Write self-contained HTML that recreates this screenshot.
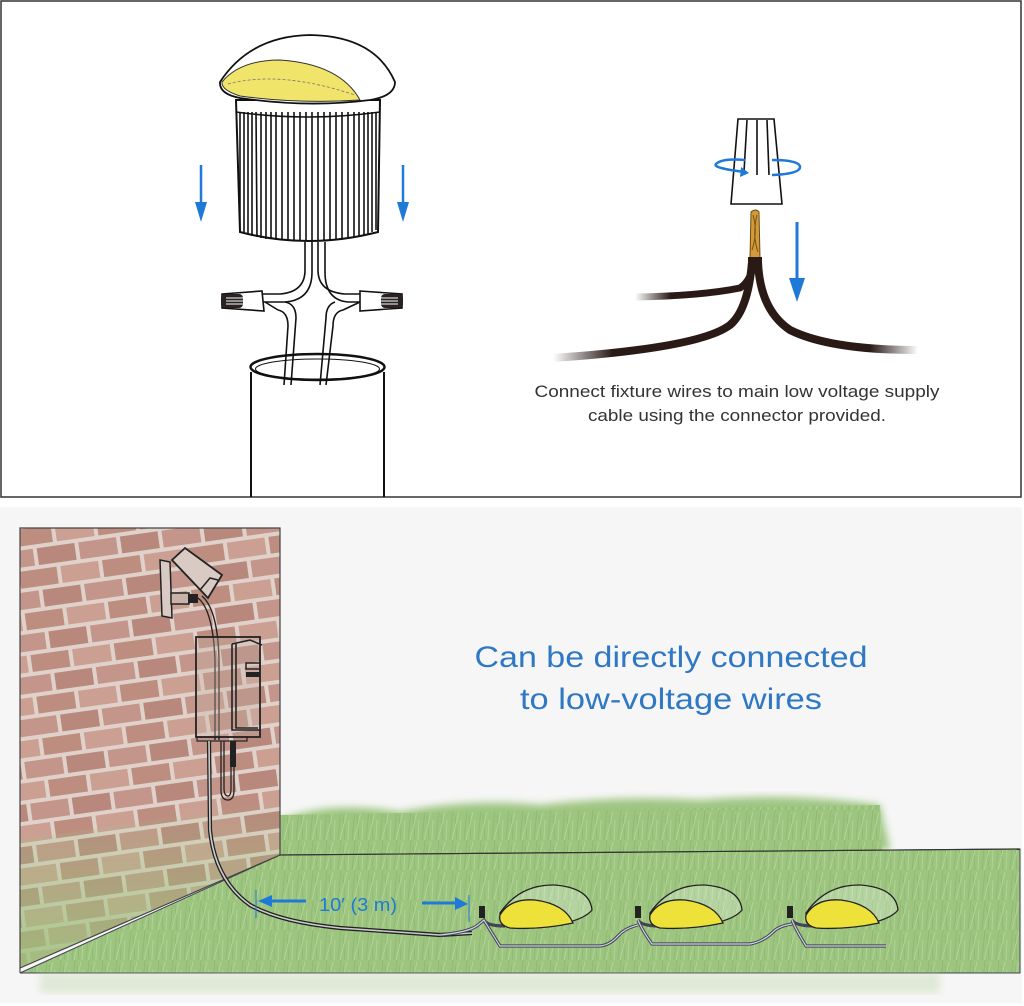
<!DOCTYPE html>
<html><head><meta charset="utf-8"><style>
html,body{margin:0;padding:0;background:#fff;}
svg{display:block;}
</style></head><body>
<svg width="1024" height="1006" viewBox="0 0 1024 1006" xmlns="http://www.w3.org/2000/svg">
<defs>
<pattern id="brick" width="84" height="42" patternUnits="userSpaceOnUse" patternTransform="rotate(-8)">
<rect width="84" height="42" fill="#e0d2ca"/>
<rect x="2" y="2" width="38" height="17" fill="#c4958a"/>
<rect x="44" y="2" width="38" height="17" fill="#b8887d"/>
<rect x="-19" y="23" width="38" height="17" fill="#cba093"/>
<rect x="23" y="23" width="38" height="17" fill="#bd8d80"/>
<rect x="65" y="23" width="38" height="17" fill="#cba093"/>
</pattern>
<pattern id="grass" width="14" height="30" patternUnits="userSpaceOnUse">
<rect width="14" height="30" fill="#9dc580"/>
<path d="M2 30 L5 0 M9 30 L7 5" stroke="#8dba70" stroke-width="0.9"/>
<path d="M4 30 L11 2 M12 30 L13 10" stroke="#b2d59a" stroke-width="0.9"/>
</pattern>
<filter id="blur"><feGaussianBlur stdDeviation="4"/></filter>
<linearGradient id="wallgrass" x1="0" y1="0" x2="0" y2="1">
<stop offset="0" stop-color="#9dc27c" stop-opacity="0"/>
<stop offset="1" stop-color="#9dc27c" stop-opacity="0.85"/>
</linearGradient>
<linearGradient id="fadeL" x1="0" x2="1"><stop offset="0" stop-color="#2a1a16" stop-opacity="0"/><stop offset="0.3" stop-color="#2a1a16"/></linearGradient>
<linearGradient id="fadeR" x1="0" x2="1"><stop offset="0.7" stop-color="#2a1a16"/><stop offset="1" stop-color="#2a1a16" stop-opacity="0"/></linearGradient>
</defs>

<rect x="1" y="1" width="1020" height="496" fill="#fff" stroke="#333" stroke-width="1.5"/>

<path d="M251 372 L251 497 M384 372 L384 497" stroke="#111" stroke-width="2" fill="none"/>
<ellipse cx="317.5" cy="367" rx="67" ry="13" fill="#fff" stroke="#111" stroke-width="2.5"/>
<ellipse cx="317.5" cy="369" rx="62" ry="10" fill="none" stroke="#111" stroke-width="1"/>

<g fill="none" stroke="#111" stroke-width="1.6">
<path d="M305 242 L305 270 Q305 292 280 294 L262 294"/>
<path d="M312 242 L312 272 Q312 300 285 302 L262 302"/>
<path d="M318 242 L318 270 Q318 292 345 294 L360 294"/>
<path d="M325 242 L325 272 Q325 300 348 302 L360 302"/>
<path d="M285 302 Q296 304 296 318 L291 385"/>
<path d="M278 310 Q288 312 288 326 L284 385"/>
<path d="M335 302 Q326 305 326 318 L320 385"/>
<path d="M343 310 Q333 312 333 326 L326 385"/>
<path d="M265 302 L278 310 M360 302 L343 310"/>
</g>
<path d="M222 294 L262 291 L264 311 L222 308 Z" fill="#fff" stroke="#111" stroke-width="1.6"/>
<rect x="221" y="294" width="22" height="14" rx="4" fill="#2a2220"/>
<path d="M226 298 L246 298 M226 301 L248 301 M226 304 L246 304" stroke="#fff" stroke-width="1"/>
<path d="M360 291 L402 294 L402 308 L360 311 Z" fill="#fff" stroke="#111" stroke-width="1.6"/>
<rect x="381" y="294" width="22" height="14" rx="4" fill="#2a2220"/>
<path d="M378 298 L398 298 M376 301 L398 301 M378 304 L398 304" stroke="#fff" stroke-width="1"/>

<path d="M236 100 L380 100 L378 232 Q308 250 240 232 Z" fill="#fff" stroke="#111" stroke-width="2"/>
<g stroke="#111" stroke-width="1.6">
<path d="M240 112 L240 230 M244 112 L244 232 M248 112 L248 234 M252 112 L252 236 M256 112 L257 237 M261 112 L261 238 M266 112 L266 239 M271 112 L271 239 M276 112 L276 240 M282 112 L282 240 M288 112 L288 241 M294 112 L294 241 M300 112 L300 241 M306 112 L306 241 M312 112 L312 241 M318 112 L318 241 M324 112 L324 241 M330 112 L330 240 M336 112 L336 240 M342 112 L342 239 M348 112 L348 238 M354 112 L354 237 M359 112 L359 236 M364 112 L364 235 M368 112 L368 234 M372 112 L372 232 M376 112 L376 230"/>
</g>
<path d="M236 112 Q308 122 380 112" fill="none" stroke="#111" stroke-width="1.5"/>
<path d="M220 82 Q250 36 310 35 Q375 36 395 82 Q395 96 370 100 Q308 108 240 98 Q219 94 220 82 Z" fill="#fff" stroke="#111" stroke-width="1.8"/>
<path d="M222 82 Q240 60 280 60 Q340 64 360 100 Q300 104 240 96 Q221 90 222 82 Z" fill="#f0e46a" stroke="#333" stroke-width="1"/>
<path d="M228 84 Q280 70 355 95" fill="none" stroke="#777" stroke-width="0.8" stroke-dasharray="3 2"/>

<g fill="#1e7ad6" stroke="#1e7ad6">
<line x1="201" y1="165" x2="201" y2="208" stroke-width="2.5"/><path d="M195 202 L207 202 L201 222 Z" stroke="none"/>
<line x1="403" y1="165" x2="403" y2="208" stroke-width="2.5"/><path d="M397 202 L409 202 L403 222 Z" stroke="none"/>
</g>

<path d="M738 119 L774 119 L782 204 L731 204 Z" fill="#fff" stroke="#111" stroke-width="1.6"/>
<path d="M747 120 L744 172 M757 120 L757 175 M767 120 L769 175" stroke="#111" stroke-width="1.6"/>
<path d="M745 172 Q712 168 716 164 Q722 158 745 160" fill="none" stroke="#1e7ad6" stroke-width="2.5"/>
<path d="M741 167 L749 173 L740 177 Z" fill="#1e7ad6"/>
<path d="M772 160 Q800 160 800 167 Q800 174 772 175" fill="none" stroke="#1e7ad6" stroke-width="2.5"/>
<path d="M751 212 Q756 208 759 212 L760 258 L750 258 Z" fill="#d29a3a" stroke="#6a4a10" stroke-width="1"/>
<path d="M753 215 Q758 232 752 250 M757 215 Q752 235 758 252" stroke="#7a5212" stroke-width="1" fill="none"/>
<path d="M635 297 Q700 296 740 288 Q752 280 754 260" fill="none" stroke="url(#fadeL)" stroke-width="7"/>
<path d="M553 358 Q700 348 730 325 Q748 310 752 262" fill="none" stroke="url(#fadeL)" stroke-width="8"/>
<path d="M758 262 Q760 310 790 330 Q830 350 918 350" fill="none" stroke="url(#fadeR)" stroke-width="8"/>
<rect x="748" y="257" width="14" height="10" fill="#2a1a16"/>
<line x1="797" y1="222" x2="797" y2="285" stroke="#1e7ad6" stroke-width="3"/>
<path d="M789 278 L805 278 L797 302 Z" fill="#1e7ad6"/>

<text x="737" y="397" font-family="Liberation Sans, sans-serif" font-size="16.5" fill="#333" text-anchor="middle" textLength="405" lengthAdjust="spacingAndGlyphs">Connect fixture wires to main low voltage supply</text>
<text x="737" y="421" font-family="Liberation Sans, sans-serif" font-size="16.5" fill="#333" text-anchor="middle" textLength="298" lengthAdjust="spacingAndGlyphs">cable using the connector provided.</text>

<rect x="0" y="507" width="1022" height="496" fill="#f6f6f6"/>

<path d="M280 820 Q330 800 400 812 Q470 798 540 805 Q620 795 700 800 Q790 792 880 805 L890 850 L280 856 Z" fill="url(#grass)" filter="url(#blur)"/>
<path d="M280 815 L880 805 L882 852 L280 856 Z" fill="url(#grass)"/>
<path d="M280 855 L1020 849 L1020 973 L20 973 Z" fill="url(#grass)" stroke="#445" stroke-width="1"/>
<path d="M280 855 L1020 849" stroke="#333" stroke-width="1.2"/>
<rect x="40" y="973" width="900" height="20" fill="#b5d09e" opacity="0.35" filter="url(#blur)"/>

<path d="M20 528 L280 528 L280 855 L20 968 Z" fill="url(#brick)"/>
<path d="M20 840 L280 800 L280 855 L20 968 Z" fill="url(#wallgrass)"/>
<path d="M20 528 L280 528 L280 855 L20 968 Z" fill="none" stroke="#444" stroke-width="1.2"/>
<line x1="20" y1="968" x2="20" y2="973" stroke="#333"/>

<path d="M160 560 L170 562 L172 618 L162 616 Z" fill="#d9cbc4" stroke="#222" stroke-width="1.5"/>
<path d="M172 560 L185 548 L222 575 L208 598 Z" fill="#d9cbc4" stroke="#222" stroke-width="1.8"/>
<path d="M200 590 L210 578 L218 580" fill="none" stroke="#222" stroke-width="1.5"/>
<rect x="171" y="593" width="18" height="11" fill="#c8b2aa" stroke="#222" stroke-width="1.5"/>
<rect x="188" y="594" width="10" height="9" fill="#222"/>
<path d="M198 598 Q213 610 215 660 L215 740 M202 596 Q218 610 219 660 L219 740" fill="none" stroke="#222" stroke-width="1.4"/>
<rect x="196" y="637" width="64" height="100" fill="rgba(200,180,170,0.35)" stroke="#222" stroke-width="1.8"/>
<path d="M232 644 L232 730 L260 730 M236 644 L236 728 L258 728" fill="none" stroke="#222" stroke-width="1.6"/>
<path d="M232 644 L250 640 L262 645" fill="none" stroke="#222" stroke-width="1.5"/>
<rect x="246" y="663" width="14" height="6" fill="none" stroke="#222" stroke-width="1.5"/>
<rect x="246" y="672" width="14" height="5" fill="#222"/>
<rect x="197" y="737" width="50" height="4" fill="none" stroke="#222" stroke-width="1.2"/>
<path d="M221 741 L221 790 Q221 800 228 800 Q234 800 234 790 L234 750 M224 741 L224 788 Q224 796 228 796 Q231 796 231 788 L231 750" fill="none" stroke="#222" stroke-width="1.3"/>
<rect x="230" y="741" width="6" height="26" fill="#222"/>

<path d="M209 741 L210 830 Q215 880 250 905 Q280 922 340 928 L440 935 L472 933" fill="none" stroke="#222" stroke-width="4.2"/>
<path d="M209 741 L210 830 Q215 880 250 905 Q280 922 340 928 L440 935 L472 933" fill="none" stroke="#ccc" stroke-width="1.6"/>

<g fill="#1e7ad6" stroke="#1e7ad6">
<line x1="256" y1="890" x2="256" y2="918" stroke-width="1"/>
<line x1="268" y1="901" x2="306" y2="901" stroke-width="3"/>
<path d="M258 901 L272 895 L272 907 Z" stroke="none"/>
<line x1="422" y1="903" x2="458" y2="903" stroke-width="3"/>
<path d="M468 904 L455 897 L455 910 Z" stroke="none"/>
<line x1="469" y1="895" x2="469" y2="922" stroke-width="1"/>
</g>
<text x="319" y="911" font-family="Liberation Sans, sans-serif" font-size="18" fill="#1e7ad6" textLength="78" lengthAdjust="spacingAndGlyphs">10′ (3 m)</text>

<g fill="none" stroke="#445" stroke-width="3.2">
<path d="M440 935 Q470 932 478 925 L484 920 Q490 930 500 946 L600 946 Q610 945 618 936 Q625 928 638 925"/>
<path d="M484 920 Q487 926 505 926"/>
<path d="M638 920 Q642 930 652 944 L750 944 Q762 942 772 933 Q778 926 792 924"/>
<path d="M638 920 Q641 926 660 926"/>
<path d="M792 920 Q796 930 806 946 L886 946"/>
<path d="M792 920 Q795 926 815 926"/>
</g>
<g fill="none" stroke="#c9d6e0" stroke-width="1.2">
<path d="M440 935 Q470 932 478 925 L484 920 Q490 930 500 946 L600 946 Q610 945 618 936 Q625 928 638 925"/>
<path d="M638 920 Q642 930 652 944 L750 944 Q762 942 772 933 Q778 926 792 924"/>
<path d="M792 920 Q796 930 806 946 L886 946"/>
</g>
<g fill="#222">
<rect x="479" y="906" width="6" height="12"/>
<rect x="635" y="906" width="6" height="12"/>
<rect x="787" y="906" width="6" height="12"/>
</g>
<g stroke="#222" stroke-width="1.3">
<path d="M500 913 Q520 884 555 885 Q590 888 592 910 Q580 925 525 928 Q500 928 500 913 Z" fill="rgba(255,255,255,0.25)"/>
<path d="M500 915 Q510 898 535 900 Q565 904 573 923 Q540 930 510 928 Q498 925 500 915 Z" fill="#eee23a"/>
<path d="M650 913 Q670 884 705 885 Q740 888 742 910 Q730 925 675 928 Q650 928 650 913 Z" fill="rgba(255,255,255,0.25)"/>
<path d="M650 915 Q660 898 685 900 Q715 904 723 923 Q690 930 660 928 Q648 925 650 915 Z" fill="#eee23a"/>
<path d="M806 913 Q826 884 861 885 Q896 888 898 910 Q886 925 831 928 Q806 928 806 913 Z" fill="rgba(255,255,255,0.25)"/>
<path d="M806 915 Q816 898 841 900 Q871 904 879 923 Q846 930 816 928 Q804 925 806 915 Z" fill="#eee23a"/>
</g>

<text x="671" y="667" font-family="Liberation Sans, sans-serif" font-size="30" fill="#2f78c4" text-anchor="middle" textLength="393" lengthAdjust="spacingAndGlyphs">Can be directly connected</text>
<text x="671" y="709" font-family="Liberation Sans, sans-serif" font-size="30" fill="#2f78c4" text-anchor="middle" textLength="302" lengthAdjust="spacingAndGlyphs">to low-voltage wires</text>
</svg>
</body></html>
